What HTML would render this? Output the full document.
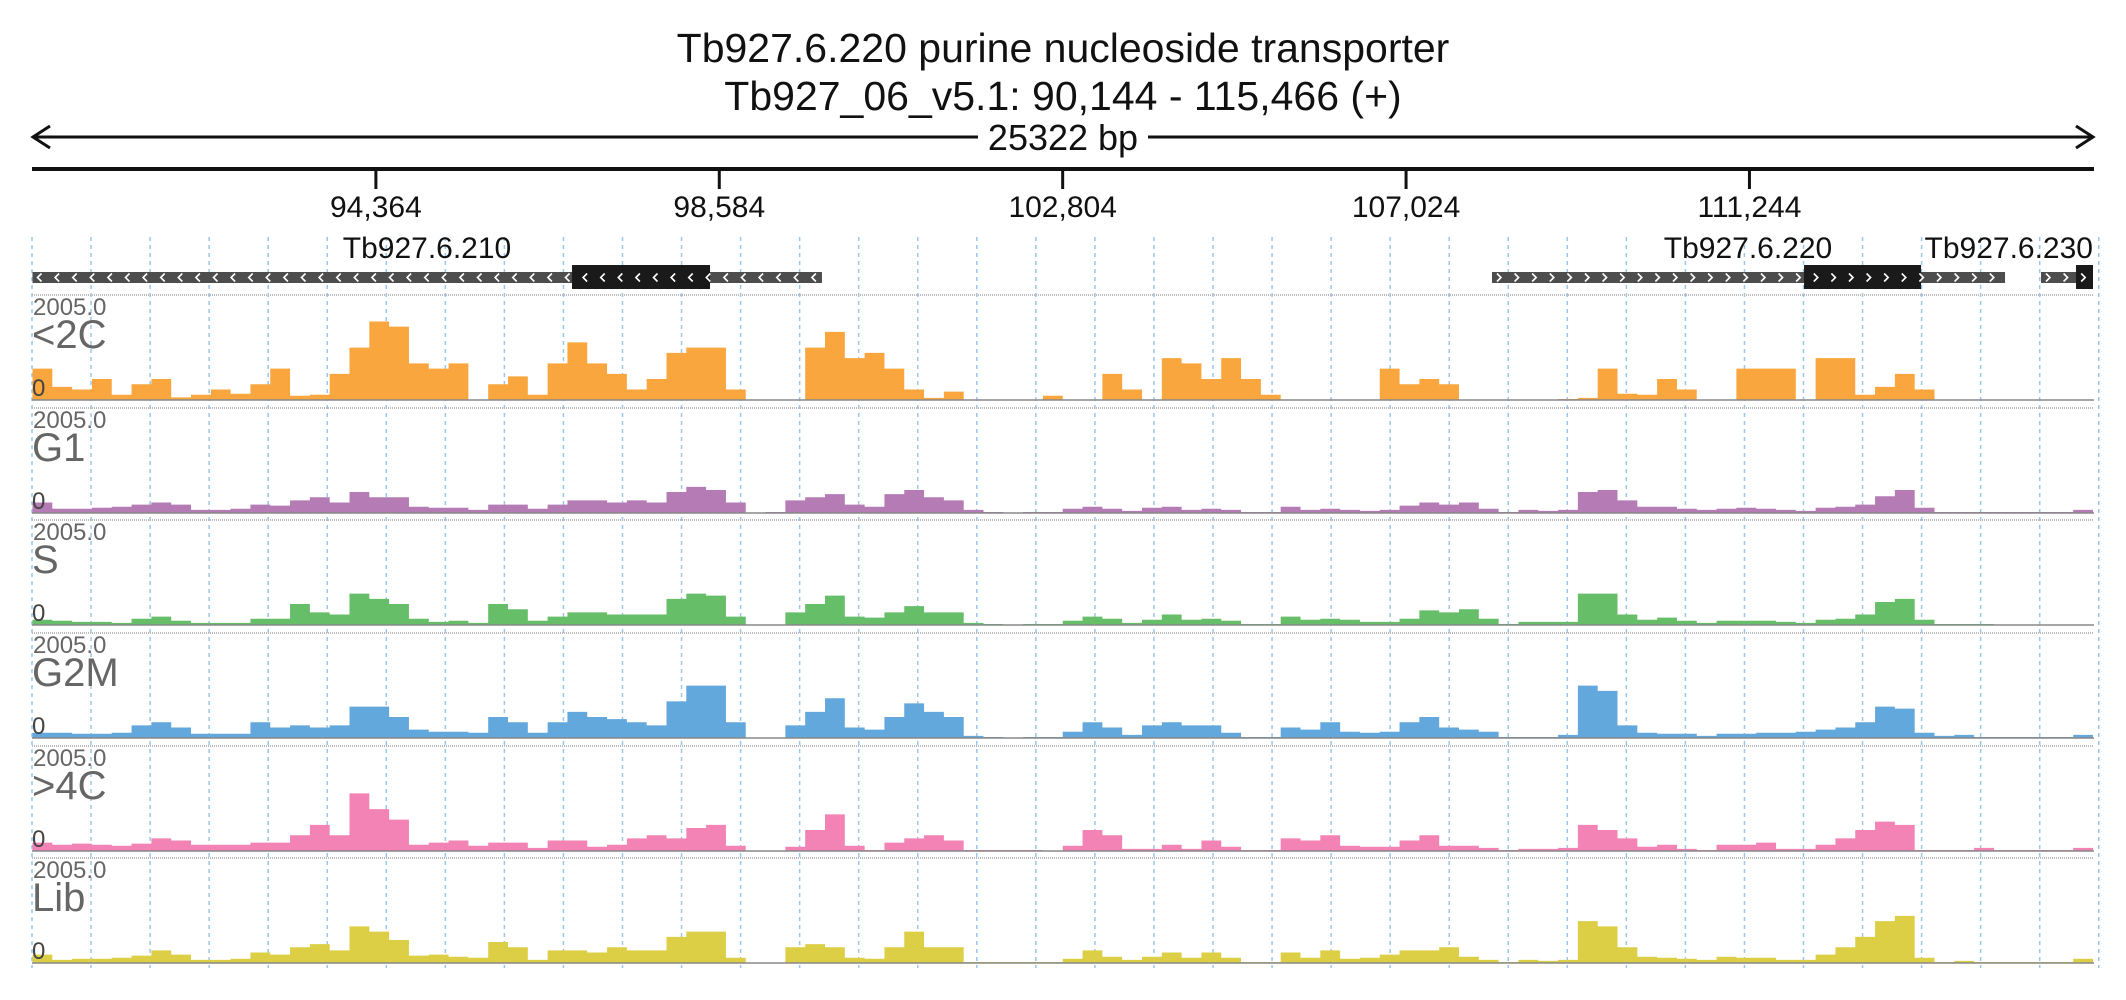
<!DOCTYPE html>
<html><head><meta charset="utf-8"><style>
html,body{margin:0;padding:0;background:#fff;}
svg{display:block;font-family:"Liberation Sans",sans-serif;}
</style></head><body>
<svg id="chart" width="2126" height="1000" viewBox="0 0 2126 1000" xmlns="http://www.w3.org/2000/svg">
<text x="1063" y="62" font-size="41" text-anchor="middle" fill="#111">Tb927.6.220  purine nucleoside transporter</text>
<text x="1063" y="110" font-size="41" text-anchor="middle" fill="#111">Tb927_06_v5.1: 90,144 - 115,466 (+)</text>
<g stroke="#111" stroke-width="3" fill="none">
<line x1="33" y1="137" x2="2093" y2="137"/>
<polyline points="50,126 33,137 50,148"/>
<polyline points="2076,126 2093,137 2076,148"/>
</g>
<rect x="978" y="118" width="170" height="40" fill="#fff"/>
<text x="1063" y="150" font-size="36" text-anchor="middle" fill="#111">25322 bp</text>
<line x1="32" y1="169" x2="2094" y2="169" stroke="#111" stroke-width="4"/>
<g id="axis"></g>
<g id="grid"></g>
<g id="genes"></g>
<g id="tracks"></g>
</svg>
<script>
const NS="http://www.w3.org/2000/svg";
const startBp=90144, endBp=115466;
const tickLabels=["94,364","98,584","102,804","107,024","111,244"];
const tickValues=[94364,98584,102804,107024,111244];
const trackNames=["<2C","G1","S","G2M",">4C","Lib"];
const maxCov=2005;
const covOrange=[600,250,200,400,100,300,400,50,100,200,120,300,600,80,100,500,1000,1500,1400,700,600,700,0,300,450,100,700,1100,700,500,200,400,900,1000,1000,200,0,0,0,1000,1300,800,900,600,200,40,160,0,0,0,0,80,0,0,500,200,0,800,700,400,800,400,100,0,0,0,0,0,600,300,400,300,0,0,0,0,0,20,40,600,120,100,400,200,0,0,600,600,600,0,800,800,100,250,500,200,0,0,0,0,0,0,0,0];
const covG1=[200,80,80,100,120,160,200,160,60,60,80,160,140,240,300,200,400,300,300,120,100,100,60,160,160,80,160,240,240,200,240,200,400,500,440,200,0,20,240,300,360,160,120,360,440,300,240,60,20,0,20,20,80,120,80,40,100,120,60,80,60,20,20,120,60,80,60,40,60,140,200,160,200,80,20,60,40,60,400,440,240,120,120,80,60,80,100,80,60,40,100,120,160,320,440,100,20,20,20,20,20,20,20,60];
const covS=[100,80,60,60,40,120,160,80,40,40,40,120,120,400,240,200,600,500,400,120,60,80,40,400,300,80,160,240,240,200,200,200,500,600,560,160,0,0,240,400,560,160,140,240,360,240,240,40,20,0,20,20,80,160,120,40,100,200,100,120,80,20,20,160,100,120,100,60,60,120,280,240,300,120,20,60,60,60,600,600,200,100,140,80,40,80,80,80,60,40,100,120,200,440,500,100,20,20,20,0,0,0,0,0];
const covG2M=[100,100,80,80,100,240,300,200,80,80,80,300,200,240,200,240,600,600,400,160,120,120,100,400,300,100,300,500,400,360,300,240,700,1000,1000,300,0,0,240,500,760,200,160,400,660,500,400,40,20,0,20,20,120,300,200,60,240,300,240,240,100,20,20,200,160,300,120,100,120,300,400,200,160,120,20,20,20,60,1000,900,240,100,80,80,40,80,80,100,100,120,160,200,300,600,560,100,40,60,20,20,20,20,20,60];
const cov4C=[160,120,140,120,100,140,240,200,120,120,120,160,160,300,500,300,1100,800,600,120,160,200,100,160,160,60,200,200,80,120,240,300,240,440,500,100,0,0,80,400,700,100,20,160,240,300,200,20,20,20,20,0,100,400,300,40,40,120,40,200,80,20,20,240,200,300,100,80,80,200,300,100,100,60,20,40,40,60,500,400,240,80,120,40,20,120,120,160,40,40,120,240,400,560,500,20,20,20,60,20,20,20,20,60];
const covLib=[160,60,80,80,100,140,240,160,60,60,80,200,160,300,360,240,700,600,440,140,160,120,100,400,300,60,240,240,200,300,240,240,500,600,600,100,0,0,300,360,300,100,80,300,600,300,300,20,20,20,20,20,80,240,120,60,120,200,100,200,100,20,20,200,100,240,80,100,160,240,240,300,120,60,20,60,40,60,800,700,300,120,100,80,60,120,100,100,60,60,160,300,500,800,900,100,20,40,20,20,20,20,20,80];
const geneNames=["Tb927.6.210","Tb927.6.220","Tb927.6.230"];
const geneStart=[90144,108080,114827];
const geneEnd=[99846,114385,115466];
const cdsStart=[96774,111915,115257];
const cdsEnd=[98470,113353,115466];
const geneStrand=["-","+","+"];

const X0=32.5, X1=2093;
function xS(bp){return X0+(bp-startBp)/(endBp-startBp)*(X1-X0);}
const trackTop=[295,408,520,633,746,858];
const trackH=105;
const colors=["#f9a63f","#b47bb5","#66be68","#62a8dc","#f283b4","#dccf46"];
const series=[covOrange,covG1,covS,covG2M,cov4C,covLib];
function yS(v,t){return trackTop[t]+trackH-Math.min(v,maxCov)/maxCov*trackH;}
function mk(tag,attrs,parent){const e=document.createElementNS(NS,tag);for(const k in attrs)e.setAttribute(k,attrs[k]);parent.appendChild(e);return e;}

const axis=document.getElementById('axis');
tickValues.forEach((v,i)=>{
  const x=xS(v);
  const l=mk('line',{x1:x,y1:169,x2:x,y2:189,stroke:'#111','stroke-width':3},axis);
  
  
  const t=mk('text',{x:x,y:217,'font-size':30,'text-anchor':'middle',fill:'#111'},axis);
  t.textContent=tickLabels[i];
  
  
});
const grid=document.getElementById('grid');
for(let k=0;k<36;k++){
  const x=32+k*59.05;
  const l=mk('line',{x1:x,y1:237,x2:x,y2:968,stroke:'#9cc6ea','stroke-width':1.5,'stroke-dasharray':'4,4'},grid);
  
  
}
const genes=document.getElementById('genes');
geneNames.forEach((n,i)=>{
  const g=mk('g',{},genes);
  
  
  const xa=xS(geneStart[i]), xb=xS(geneEnd[i]);
  mk('rect',{x:xa,y:272,width:xb-xa,height:11,fill:'#4d4d4d'},g);
  const ca=xS(cdsStart[i]), cb=xS(cdsEnd[i]);
  mk('rect',{x:ca,y:265,width:cb-ca,height:24,fill:'#1a1a1a'},g);
  for(let x=xa+4;x<xb-6;x+=17.6){
    const d=geneStrand[i]==='-'?`M${x+5},${273.5} L${x+1},${277.5} L${x+5},${281.5}`:`M${x+1},${273.5} L${x+5},${277.5} L${x+1},${281.5}`;
    mk('path',{d:d,stroke:'#fff','stroke-width':1.6,fill:'none'},g);
  }
  const lx=i===0?427:(i===1?1748:2093);
  const t=mk('text',{x:lx,y:258,'font-size':30,'text-anchor':i===2?'end':'middle',fill:'#111'},g);
  t.textContent=n;
});
const tracks=document.getElementById('tracks');
series.forEach((arr,t)=>{
  const g=mk('g',{},tracks);
  
  
  const top=trackTop[t], base=top+trackH;
  mk('line',{x1:32,y1:top,x2:2094,y2:top,stroke:'#bbb','stroke-width':2,'stroke-dasharray':'1,1'},g);
  const n=arr.length, step=(endBp-startBp)/n;
  let d=`M${xS(startBp)},${base}`;
  arr.forEach((v,i)=>{
    const xa=xS(startBp+i*step), xb=xS(startBp+(i+1)*step), y=yS(v,t);
    d+=` L${xa},${y} L${xb},${y}`;
  });
  d+=` L${xS(endBp)},${base} Z`;
  const p=mk('path',{d:d,fill:colors[t]},g);
  
  
  mk('line',{x1:32,y1:base,x2:2094,y2:base,stroke:'#888','stroke-width':1.5},g);
  const mx=mk('text',{x:33,y:top+20,'font-size':24,fill:'#666'},g);
  mx.textContent=maxCov.toFixed(1);
  
  
  const nm=mk('text',{x:32,y:top+53,'font-size':40,fill:'#666'},g);
  nm.textContent=trackNames[t];
  
  
  const z=mk('text',{x:32,y:base-4,'font-size':24,fill:'#444'},g);
  z.textContent='0';
  
  
});
</script>
</body></html>
